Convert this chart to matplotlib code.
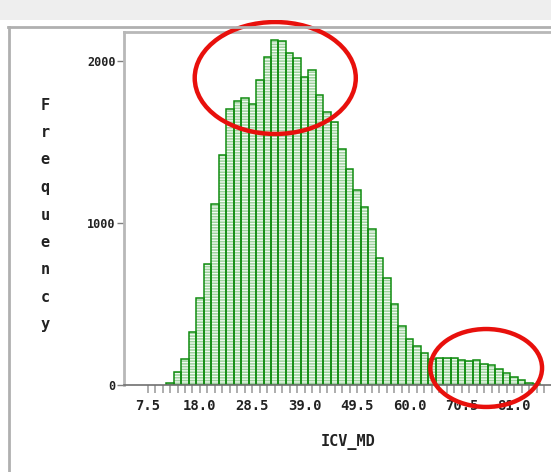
import numpy as np
import matplotlib
matplotlib.use("Agg")
import matplotlib.pyplot as plt
from matplotlib.patches import Ellipse, Rectangle
from matplotlib.lines import Line2D

###############################################
############ [Datos histograma] ###############
###############################################
midpoints = [12.0, 13.5, 15.0, 16.5, 18.0, 19.5, 21.0, 22.5, 24.0, 25.5,
             27.0, 28.5, 30.0, 31.5, 33.0, 34.5, 36.0, 37.5, 39.0, 40.5,
             42.0, 43.5, 45.0, 46.5, 48.0, 49.5, 51.0, 52.5, 54.0, 55.5,
             57.0, 58.5, 60.0, 61.5, 63.0, 64.5, 66.0, 67.5, 69.0, 70.5,
             72.0, 73.5, 75.0, 76.5, 78.0, 79.5, 81.0, 82.5, 84.0, 85.5]
freq = [10, 82, 159, 329, 535, 747, 1120, 1420, 1702, 1755,
        1770, 1737, 1885, 2023, 2130, 2123, 2051, 2017, 1903, 1944,
        1790, 1687, 1622, 1457, 1331, 1204, 1100, 965, 782, 659,
        500, 365, 284, 238, 196, 159, 165, 169, 165, 154,
        146, 154, 128, 126, 100, 74, 52, 28, 10, 4]
bin_width = 1.5
tick_labels = ['7.5', '18.0', '28.5', '39.0', '49.5', '60.0', '70.5', '81.0']
y_ticks = [0, 1000, 2000]

###############################################
################ [Figura] #####################
###############################################
plt.rcParams['hatch.linewidth'] = 0.9
fig = plt.figure(figsize=(5.51, 4.72), dpi=100)
fig.patch.set_facecolor('white')

# banda gris superior y marco exterior
fig.patches.append(Rectangle((0, 1 - 20 / 472), 1, 20 / 472, transform=fig.transFigure,
                             facecolor='#eeeeee', edgecolor='none'))
fig.lines.append(Line2D([8 / 551, 1], [1 - 27 / 472, 1 - 27 / 472], transform=fig.transFigure,
                        color='#b0b0b0', lw=2))
fig.lines.append(Line2D([9 / 551, 9 / 551], [0, 1 - 27 / 472], transform=fig.transFigure,
                        color='#b0b0b0', lw=2))

ax = fig.add_axes([124 / 551, (472 - 385) / 472, 1 - 124 / 551 + 0.01, (385 - 32) / 472])

# relleno rayado + contorno
ax.bar(midpoints, freq, width=bin_width, facecolor='#9ed29e', edgecolor='#f4fbf4',
       hatch='------', linewidth=0)
ax.bar(midpoints, freq, width=bin_width, facecolor='none', edgecolor='#108c10',
       linewidth=1.1)

ax.set_xlim(2.77, 89.5)
ax.set_ylim(0, 2179)

mono = 'DejaVu Sans Mono'
major_x = [float(t) for t in tick_labels]
ax.set_xticks(major_x)
ax.set_xticklabels(tick_labels, fontfamily=mono, fontweight='bold', fontsize=10, color='#222222')
ax.set_xticks(np.arange(7.5, 89.5, bin_width), minor=True)
ax.tick_params(axis='x', which='both', length=6, width=1.2, color='#a0a0a0', pad=4)
ax.set_yticks(y_ticks)
ax.set_yticklabels([str(v) for v in y_ticks], fontfamily=mono, fontweight='bold',
                   fontsize=8.5, color='#222222')
ax.tick_params(axis='y', length=5, width=1, color='#808080', pad=1)

for s in ['top', 'left']:
    ax.spines[s].set_color('#b8b8b8')
    ax.spines[s].set_linewidth(2)
ax.spines['bottom'].set_color('#707070')
ax.spines['bottom'].set_linewidth(1.2)
ax.spines['right'].set_visible(False)

ax.set_xlabel('ICV_MD', fontfamily=mono, fontweight='bold', fontsize=11,
              color='#222222')
ax.xaxis.set_label_coords((345 - 124) / (551 - 124), -(49 / 353))

# etiqueta vertical "Frequency"
word = 'Frequency'
for i, ch in enumerate(word):
    ypx = 105 + i * 27.5
    fig.text(45 / 551, 1 - ypx / 472, ch, ha='center', va='center', fontfamily=mono,
             fontweight='bold', fontsize=11, color='#222222')

# elipses rojas de anotacion
ax.add_patch(Ellipse((33.1, 1895), 32.3, 691, fill=False, edgecolor='#e8100c',
                     linewidth=3.2, clip_on=False, zorder=5))
ax.add_patch(Ellipse((75.4, 105), 22.4, 481, fill=False, edgecolor='#e8100c',
                     linewidth=3.2, clip_on=False, zorder=5))

fig.savefig('out.png', dpi=100)
